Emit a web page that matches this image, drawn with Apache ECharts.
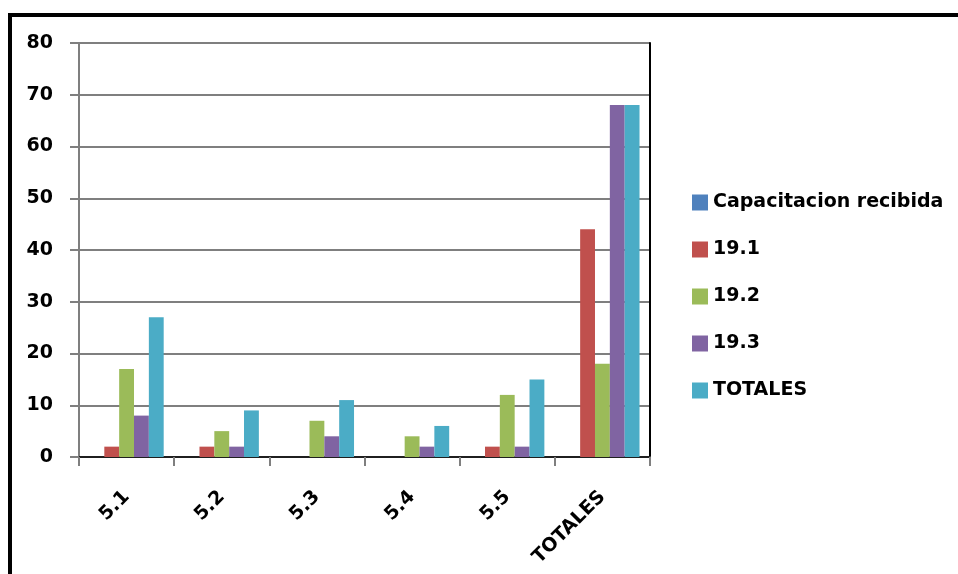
<!DOCTYPE html>
<html>
<head>
<meta charset="utf-8">
<script src="https://cdn.jsdelivr.net/npm/echarts@6/dist/echarts.min.js"></script>
<style>html,body{margin:0;padding:0;background:#fff;}#c{width:958px;height:574px;}</style>
</head>
<body>
<div id="c"></div>
<script>
var categories = ['5.1', '5.2', '5.3', '5.4', '5.5', 'TOTALES'];
var seriesNames = ['Capacitacion recibida', '19.1', '19.2', '19.3', 'TOTALES'];
var capacitacion = [0, 0, 0, 0, 0, 0];
var s191 = [2, 2, 0, 0, 2, 44];
var s192 = [17, 5, 7, 4, 12, 18];
var s193 = [8, 2, 4, 2, 2, 68];
var totales = [27, 9, 11, 6, 15, 68];
var yTicks = [0, 10, 20, 30, 40, 50, 60, 70, 80];
var colors = ['#4F81BD', '#C0504D', '#9BBB59', '#8064A2', '#4BACC6'];
var seriesData = [capacitacion, s191, s192, s193, totales];

var font = 'DejaVu Sans';
var chart = echarts.init(document.getElementById('c'), null, {renderer: 'canvas'});
chart.setOption({
  animation: false,
  color: colors,
  grid: {left: 79, right: 308, top: 43, bottom: 117, containLabel: false},
  legend: {
    orient: 'vertical', left: 692, top: 193, padding: 0,
    itemWidth: 16, itemHeight: 16, itemGap: 28,
    icon: 'rect',
    data: seriesNames,
    textStyle: {fontFamily: font, fontWeight: 'bold', fontSize: 19, lineHeight: 19, color: '#000'}
  },
  xAxis: [{
    type: 'category', data: categories, position: 'bottom',
    axisLine: {lineStyle: {color: '#7f7f7f', width: 2}},
    axisTick: {show: true, length: 9, alignWithLabel: false, lineStyle: {color: '#7f7f7f', width: 2}},
    axisLabel: {rotate: 45, margin: 37, interval: 0, fontFamily: font, fontWeight: 'bold', fontSize: 19, color: '#000'}
  }, {
    type: 'category', data: categories, position: 'top',
    axisLine: {lineStyle: {color: '#000', width: 1.5}},
    axisTick: {show: false}, axisLabel: {show: false}
  }],
  yAxis: [{
    type: 'value', min: 0, max: 80, interval: 10,
    axisLine: {show: true, lineStyle: {color: '#7f7f7f', width: 2}},
    axisTick: {show: true, length: 9, lineStyle: {color: '#7f7f7f', width: 2}},
    splitLine: {show: true, lineStyle: {color: '#7f7f7f', width: 2}},
    axisLabel: {margin: 26, fontFamily: font, fontWeight: 'bold', fontSize: 19, color: '#000',
      formatter: function (v) { return yTicks.indexOf(v) >= 0 ? String(v) : ''; }}
  }, {
    type: 'value', min: 0, max: 80, interval: 10, position: 'right',
    axisLine: {show: true, lineStyle: {color: '#000', width: 2}},
    axisTick: {show: false}, axisLabel: {show: false}, splitLine: {show: false}
  }],
  graphic: [
    {type: 'line', shape: {x1: 8, y1: 15, x2: 958, y2: 15}, style: {stroke: '#000', lineWidth: 4}, silent: true},
    {type: 'line', shape: {x1: 10, y1: 13, x2: 10, y2: 574}, style: {stroke: '#000', lineWidth: 4}, silent: true}
  ],
  series: seriesNames.map(function (n, i) {
    return {
      name: n, type: 'bar', data: seriesData[i],
      barGap: '0%', barCategoryGap: '22%',
      itemStyle: {color: colors[i]}
    };
  })
});
</script>
</body>
</html>
